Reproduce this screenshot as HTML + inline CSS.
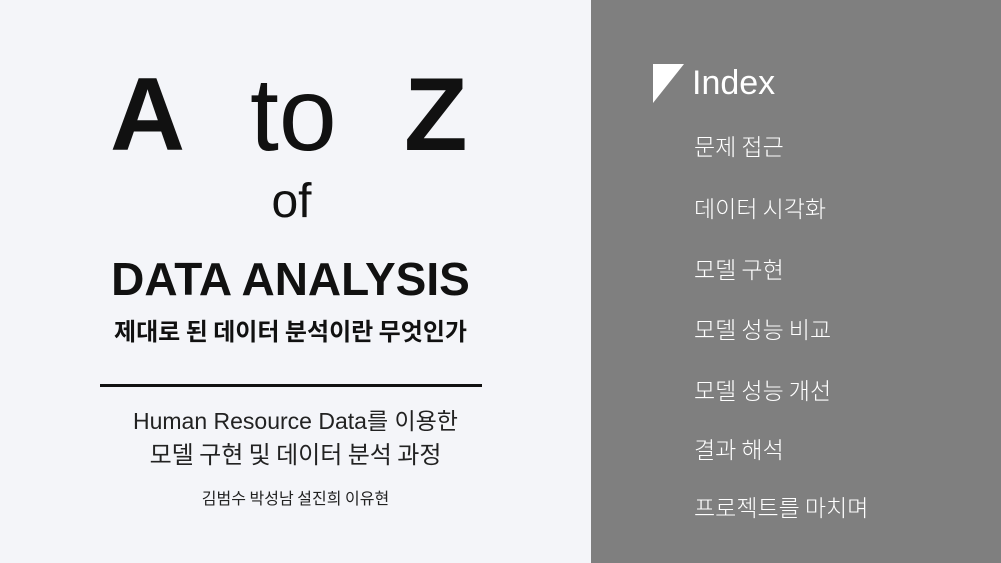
<!DOCTYPE html>
<html><head><meta charset="utf-8">
<style>
html,body{margin:0;padding:0;}
body{width:1001px;height:563px;position:relative;overflow:hidden;font-family:"Liberation Sans","Noto Sans CJK KR",sans-serif;}
#left{position:absolute;left:0;top:0;width:591px;height:563px;background:#f4f5f9;}
#right{position:absolute;left:591px;top:0;width:410px;height:563px;background:#7f7f7f;}
.t{position:absolute;white-space:nowrap;line-height:1;}
.c{left:0;width:591px;text-align:center;}
.item{position:absolute;left:694px;color:#fff;font-size:23px;line-height:1;font-family:"Noto Sans CJK KR","Liberation Sans",sans-serif;font-weight:300;}
</style></head><body>
<div id="left"></div>
<div id="right"></div>

<div class="t" style="left:110px;top:63px;font-size:104px;font-weight:bold;color:#111;">A</div>
<div class="t" style="left:250px;top:63px;font-size:104px;font-weight:normal;color:#111;">to</div>
<div class="t" style="left:404px;top:63px;font-size:104px;font-weight:bold;color:#111;">Z</div>
<div class="t c" style="top:178px;font-size:48px;color:#111;left:-4px;">of</div>
<div class="t c" style="top:256px;font-size:46px;font-weight:bold;color:#111;left:-5px;">DATA ANALYSIS</div>
<div class="t c" style="top:318px;left:-5px;font-size:24px;font-weight:bold;color:#111;font-family:'Noto Sans CJK KR',sans-serif;">제대로 된 데이터 분석이란 무엇인가</div>
<div style="position:absolute;left:100px;top:384px;width:382px;height:3px;background:#111;"></div>
<div class="t c" style="top:410px;font-size:23px;color:#222;font-family:'Liberation Sans','Noto Sans CJK KR',sans-serif;">Human Resource Data를 이용한</div>
<div class="t c" style="top:441px;font-size:24px;color:#222;font-family:'Noto Sans CJK KR',sans-serif;">모델 구현 및 데이터 분석 과정</div>
<div class="t c" style="top:489px;font-size:16px;color:#222;font-family:'Noto Sans CJK KR',sans-serif;">김범수 박성남 설진희 이유현</div>

<svg style="position:absolute;left:653px;top:64px;" width="32" height="40"><polygon points="0,0 31,0 0,39" fill="#fff"/></svg>
<div class="t" style="left:692px;top:66px;font-size:34px;color:#fff;">Index</div>
<div class="item" style="top:134px;">문제 접근</div>
<div class="item" style="top:196px;">데이터 시각화</div>
<div class="item" style="top:257px;">모델 구현</div>
<div class="item" style="top:317px;">모델 성능 비교</div>
<div class="item" style="top:378px;">모델 성능 개선</div>
<div class="item" style="top:437px;">결과 해석</div>
<div class="item" style="top:495px;">프로젝트를 마치며</div>
</body></html>
